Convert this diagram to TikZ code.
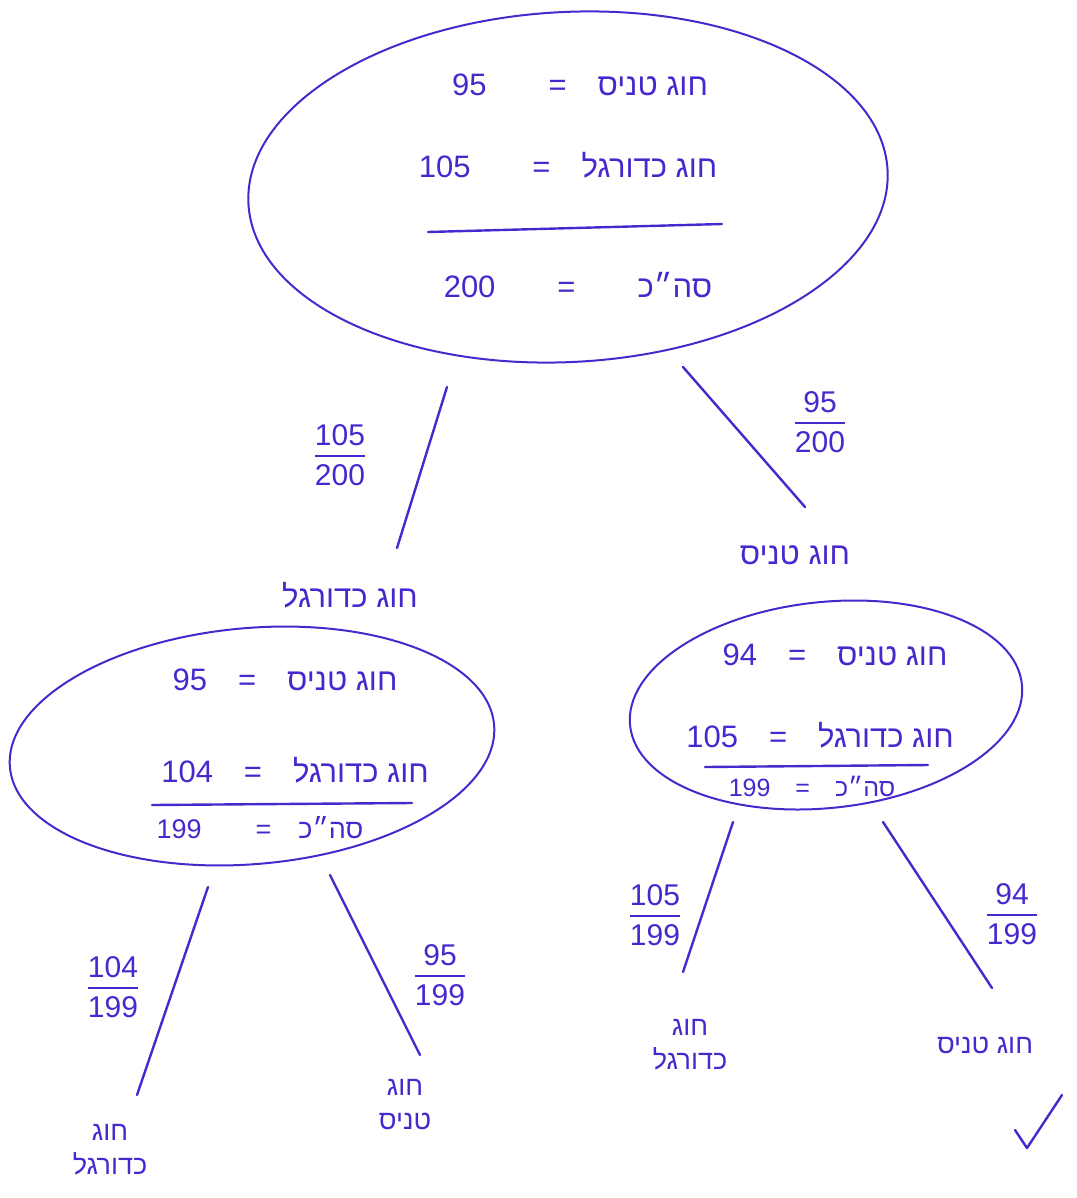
\documentclass[tikz,border=0pt]{standalone}
\usepackage{fontspec}
\setmainfont{Liberation Sans}
\newfontfamily\hebfont[Script=Hebrew]{Liberation Sans}
\TeXXeTstate=1
\usetikzlibrary{shapes.geometric}
\definecolor{ink}{RGB}{72,40,205}
\newcommand\heb[1]{{\hebfont\beginR #1\endR}}
\newcommand\fr[2]{$\displaystyle{\hbox{#1}\above2.5pt\hbox{#2}}$}
\begin{document}
\begin{tikzpicture}[x=1pt,y=-1pt,
  stroke/.style={draw=ink, line width=2.4pt, line cap=round},
  oval/.style={draw=ink, line width=2pt, ellipse, inner sep=0pt},
  txt/.style={text=ink, font=\fontsize{31}{36}\selectfont, inner sep=0pt},
  small/.style={text=ink, font=\fontsize{27}{32}\selectfont, inner sep=0pt},
  leaf/.style={text=ink, font=\fontsize{27}{34}\selectfont, inner sep=0pt, align=center},
  frac/.style={text=ink, font=\fontsize{30}{34}\selectfont, inner sep=0pt}]
\useasboundingbox (0,0) rectangle (1076,1198);

% root
\node[oval, minimum width=640pt, minimum height=350pt, rotate=3] (root) at (568,187) {};
\node[txt] (r1) at (580,85) {95\qquad=\quad\heb{חוג טניס}};
\node[txt] (r2) at (568,165) {105\qquad=\quad\heb{חוג כדורגל}};
\coordinate (rA) at (428,232); \coordinate (rB) at (722,224);
\draw[stroke] (rA) -- (rB);
\node[txt] (r3) at (578,285) {200\qquad=\qquad\heb{סה״כ}};

% edges from root
\coordinate (e1a) at (447,387); \coordinate (e1b) at (397,548);
\coordinate (e2a) at (683,367); \coordinate (e2b) at (805,507);
\draw[stroke] (e1a) -- (e1b);
\draw[stroke] (e2a) -- (e2b);
\node[frac] (f1) at (340,455) {\fr{105}{200}};
\node[frac] (f2) at (820,422) {\fr{95}{200}};

% left child
\node[txt] (lt) at (350,595) {\heb{חוג כדורגל}};
\node[oval, minimum width=486pt, minimum height=236pt, rotate=5] (lo) at (252,746) {};
\node[txt] (l1) at (285,680) {95\quad=\quad\heb{חוג טניס}};
\node[txt] (l2) at (295,770) {104\quad=\quad\heb{חוג כדורגל}};
\coordinate (lA) at (152,805); \coordinate (lB) at (412,803);
\draw[stroke] (lA) -- (lB);
\node[small] (l3) at (260,828) {199\qquad=\quad\heb{סה״כ}};

% right child
\node[txt] (rt) at (795,555) {\heb{חוג טניס}};
\node[oval, minimum width=394pt, minimum height=206pt, rotate=6] (ro) at (826,705) {};
\node[txt] (q1) at (835,655) {94\quad=\quad\heb{חוג טניס}};
\node[txt] (q2) at (820,735) {105\quad=\quad\heb{חוג כדורגל}};
\coordinate (qA) at (705,767); \coordinate (qB) at (928,765);
\draw[stroke] (qA) -- (qB);
\node[text=ink, font=\fontsize{25}{30}\selectfont, inner sep=0pt] (q3) at (812,786) {199\quad=\quad\heb{סה״כ}};

% edges from left child
\coordinate (e3a) at (208,887); \coordinate (e3b) at (137,1095);
\coordinate (e4a) at (330,875); \coordinate (e4b) at (420,1055);
\draw[stroke] (e3a) -- (e3b);
\draw[stroke] (e4a) -- (e4b);
\node[frac] (f3) at (113,987) {\fr{104}{199}};
\node[frac] (f4) at (440,975) {\fr{95}{199}};

% edges from right child
\coordinate (e5a) at (733,822); \coordinate (e5b) at (683,972);
\coordinate (e6a) at (883,822); \coordinate (e6b) at (992,988);
\draw[stroke] (e5a) -- (e5b);
\draw[stroke] (e6a) -- (e6b);
\node[frac] (f5) at (655,915) {\fr{105}{199}};
\node[frac] (f6) at (1012,914) {\fr{94}{199}};

% leaves
\node[leaf] (ll) at (110,1150) {\heb{חוג}\\\heb{כדורגל}};
\node[leaf] (lr) at (405,1105) {\heb{חוג}\\\heb{טניס}};
\node[leaf] (rl) at (690,1045) {\heb{חוג}\\\heb{כדורגל}};
\node[leaf] (rr) at (985,1045) {\heb{חוג טניס}};

% check mark
\coordinate (c1) at (1015,1130); \coordinate (c2) at (1027,1148); \coordinate (c3) at (1062,1095);
\draw[stroke, line join=round] (c1) -- (c2) -- (c3);
\end{tikzpicture}
\end{document}
